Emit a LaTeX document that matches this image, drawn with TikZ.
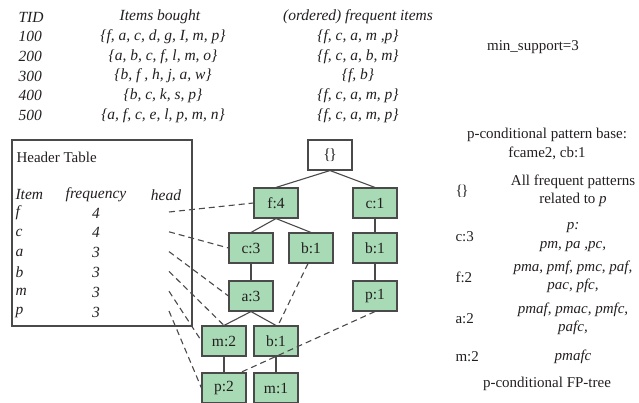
\documentclass[tikz,border=0pt]{standalone}
\usepackage{fontspec}
\setmainfont{Liberation Serif}
\usetikzlibrary{positioning}
\definecolor{cgreen}{HTML}{A8DAB5}
\definecolor{cline}{HTML}{4A4A4A}
\definecolor{ctext}{HTML}{231F20}
\tikzset{
  every picture/.style={line width=1.1pt, text=ctext},
  fpnode/.style={draw=cline, fill=#1, minimum width=44pt, minimum height=30pt, inner sep=0pt,
                 font=\fontsize{15.5}{18}\selectfont},
  fpnode/.default=cgreen,
  link/.style={draw=cline, line width=1.1pt},
  headlink/.style={draw=cline, dash pattern=on 6pt off 4pt, line width=1.1pt},
  cell/.style={font=\fontsize{15.5}{18}\selectfont\itshape, inner sep=0pt},
  plain/.style={font=\fontsize{15}{18.5}\selectfont, inner sep=0pt, align=center},
}

\begin{document}
\begin{tikzpicture}[x=1pt, y=-1pt]
  \useasboundingbox (0,0) rectangle (639,403);
  % transactions: TID, items bought, ordered frequent items
  \node[cell, anchor=west] (tid) at (18,17) {TID};
  \node[cell] (bought) at (160,17) {Items bought};
  \node[cell] (ordered) at (358,17) {(ordered) frequent items};
  \foreach \i/\t/\b/\o in {
      1/100/{\{f, a, c, d, g, I, m, p\}}/{\{f, c, a, m ,p\}},
      2/200/{\{a, b, c, f, l, m, o\}}/{\{f, c, a, b, m\}},
      3/300/{\{b, f , h, j, a, w\}}/{\{f, b\}},
      4/400/{\{b, c, k, s, p\}}/{\{f, c, a, m, p\}},
      5/500/{\{a, f, c, e, l, p, m, n\}}/{\{f, c, a, m, p\}}} {
    \node[cell, anchor=west] (tid\i) at (18, 17+19.7*\i) {\t};
    \node[cell] (bought\i) at (163, 17+19.7*\i) {\b};
    \node[cell] (ordered\i) at (358, 17+19.7*\i) {\o};
  }
  \node[plain] (minsup) at (533,47) {min\_support=3};

  % header table
  \node[draw=cline, minimum width=180pt, minimum height=186pt, inner sep=0pt] (htable) at (102,233) {};
  \node[plain, anchor=west] (htitle) at (16,157) {Header Table};
  \node[cell, anchor=west] (hitem) at (15,195) {Item};
  \node[cell] (hfreq) at (96,195) {frequency};
  \node[cell] (hhead) at (166,195) {head};
  \foreach \i/\itm/\fr in {1/f/4, 2/c/4, 3/a/3, 4/b/3, 5/m/3, 6/p/3} {
    \node[cell, anchor=west] (item\i) at (15, 193.2+19.8*\i) {\itm};
    \node[cell] (freq\i) at (96, 193.2+19.8*\i) {\fr};
    \coordinate (h\i) at (169, 192.2+19.8*\i);
  }

  % FP-tree
  \node[fpnode=white] (root) at (330,155) {\{\kern-1.5pt\}};
  \foreach \n/\x/\y/\t in {f4/276/203/f:4, c1/375/203/c:1,
      c3/251/248/c:3, b1f/311/248/b:1, b1r/375/248/b:1,
      a3/251/296/a:3, p1/375/296/p:1,
      m2/224/341/m:2, b1a/276/341/b:1,
      p2/224/388/p:2, m1/276/388/m:1}
    \node[fpnode] (\n) at (\x,\y) {\t};
  \foreach \a/\b in {root/f4, root/c1, f4/c3, f4/b1f, c3/a3, a3/m2, a3/b1a,
      m2/p2, b1a/m1, c1/b1r, b1r/p1}
    \draw[link] (\a.south) -- (\b.north);

  % node-links
  \foreach \i/\dst in {1/f4.west, 2/c3.west, 3/a3.west, 4/m2.north, 5/m2.west, 6/p2.west}
    \draw[headlink] (h\i) -- (\dst);
  \draw[headlink] ([xshift=-3pt]b1f.south) -- ([xshift=2pt]b1a.north);
  \draw[headlink] (p1.south) -- ([xshift=-6pt]p2.north east);

  % p-conditional patterns
  \node[plain] (pbase) at (547,144) {p-conditional pattern base:\\fcame2, cb:1};
  \foreach \i/\y/\lbl/\pats in {
      1/191/{\{\kern-1.5pt\}}/{All frequent patterns\\related to \textit{p}},
      2/237/c:3/{\textit{p:}\\\textit{pm, pa ,pc,}},
      3/277/f:2/{\textit{pma, pmf, pmc, paf,}\\\textit{pac, pfc,}},
      4/319/a:2/{\textit{pmaf, pmac, pmfc,}\\\textit{pafc,}},
      5/357/m:2/{\textit{pmafc}}} {
    \node[plain, anchor=west] (cond\i) at (455,\y) {\lbl};
    \node[plain] (pat\i) at (573,\y) {\pats};
  }
  \node[plain] (ptree) at (547,384) {p-conditional FP-tree};
\end{tikzpicture}
\end{document}
